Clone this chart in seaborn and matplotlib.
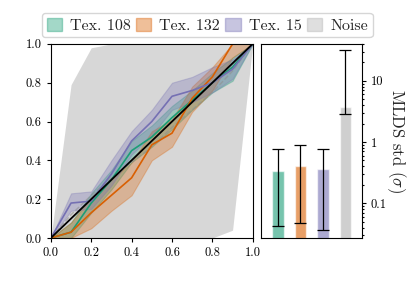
import numpy as np
import pandas as pd
import seaborn as sns
import matplotlib
import matplotlib.pyplot as plt
from matplotlib.patches import Patch
from matplotlib.ticker import FixedLocator, NullFormatter

sns.set_style("ticks")
plt.rcParams['font.family'] = ['cmr10', 'DejaVu Serif']
plt.rcParams['mathtext.fontset'] = 'cm'
plt.rcParams['axes.formatter.use_mathtext'] = True

x = [0.0, 0.1, 0.2, 0.3, 0.4, 0.5, 0.6, 0.7, 0.8, 0.9, 1.0]

tex108 = [0.0, 0.03, 0.18, 0.30, 0.45, 0.52, 0.62, 0.71, 0.80, 0.88, 1.0]
tex108_lo = [0.0, 0.0, 0.13, 0.25, 0.39, 0.47, 0.56, 0.66, 0.75, 0.81, 1.0]
tex108_hi = [0.0, 0.08, 0.23, 0.35, 0.50, 0.58, 0.68, 0.76, 0.85, 0.93, 1.0]

tex132 = [0.0, 0.03, 0.13, 0.22, 0.31, 0.48, 0.54, 0.72, 0.83, 1.0, 1.0]
tex132_lo = [0.0, 0.0, 0.05, 0.14, 0.22, 0.40, 0.47, 0.65, 0.76, 0.93, 1.0]
tex132_hi = [0.0, 0.08, 0.21, 0.30, 0.39, 0.55, 0.61, 0.78, 0.88, 1.0, 1.0]

tex15 = [0.0, 0.18, 0.19, 0.33, 0.50, 0.60, 0.73, 0.76, 0.80, 0.87, 1.0]
tex15_lo = [0.0, 0.14, 0.15, 0.27, 0.43, 0.53, 0.66, 0.70, 0.75, 0.82, 1.0]
tex15_hi = [0.0, 0.23, 0.24, 0.40, 0.55, 0.66, 0.80, 0.83, 0.88, 0.92, 1.0]

noise = [0.0, 0.12, 0.22, 0.31, 0.39, 0.47, 0.57, 0.66, 0.75, 0.86, 1.0]
noise_lo = [0.0, 0.0, 0.0, 0.0, 0.0, 0.0, 0.0, 0.0, 0.0, 0.04, 1.0]
noise_hi = [0.0, 0.79, 0.98, 1.0, 1.0, 1.0, 1.0, 1.0, 1.0, 1.0, 1.0]

labels = ['Tex. 108', 'Tex. 132', 'Tex. 15', 'Noise']
colors = ['#1b9e77', '#d95f02', '#7570b3', '#b0b0b0']
std_vals = [0.34, 0.41, 0.36, 3.75]
std_lo = [0.042, 0.048, 0.036, 2.88]
std_hi = [0.77, 0.90, 0.77, 31.8]

fig = plt.figure(figsize=(4.07, 2.85), dpi=100)
ax = fig.add_axes([0.125, 0.165, 0.496, 0.681])
ax2 = fig.add_axes([0.641, 0.165, 0.248, 0.681])

# noise band
ax.fill_between(x, noise_lo, noise_hi, color='#b0b0b0', alpha=0.5, lw=0)
sns.lineplot(x=x, y=noise, ax=ax, color='#909090', lw=1.0, ls='--', alpha=0.6)

series = [(tex108, tex108_lo, tex108_hi), (tex132, tex132_lo, tex132_hi),
          (tex15, tex15_lo, tex15_hi)]
for (m, lo, hi), c in zip(series, colors[:3]):
    ax.fill_between(x, lo, hi, color=c, alpha=0.3, lw=0.8)
    sns.lineplot(x=x, y=m, ax=ax, color=c, lw=1.2)

ax.plot([0, 1], [0, 1], color='black', lw=1.3)
ax.set_xlim(0, 1)
ax.set_ylim(0, 1)
ticks = [0.0, 0.2, 0.4, 0.6, 0.8, 1.0]
ax.set_xticks(ticks)
ax.set_yticks(ticks)
ax.set_xticklabels(['%.1f' % t for t in ticks])
ax.set_yticklabels(['%.1f' % t for t in ticks])
ax.tick_params(labelsize=9, length=3, width=0.8, colors='black')
for s in ax.spines.values():
    s.set_color('black')
    s.set_linewidth(0.8)

# bars
df = pd.DataFrame({'label': labels, 'std': std_vals})
sns.barplot(data=df, x='label', y='std', hue='label', palette=colors,
            ax=ax2, width=0.5, alpha=0.6, legend=False, saturation=1)
pos = np.arange(len(labels))
yerr = [np.array(std_vals) - np.array(std_lo), np.array(std_hi) - np.array(std_vals)]
ax2.errorbar(pos, std_vals, yerr=yerr, fmt='none', ecolor='black',
             elinewidth=0.9, capsize=4.5, capthick=0.9)
ax2.set_yscale('log')
ax2.set_ylim(0.027, 40)
ax2.set_xlim(-0.76, 3.73)
ax2.set_xticks([])
ax2.set_xlabel('')
ax2.yaxis.tick_right()
ax2.yaxis.set_label_position('right')
ax2.yaxis.set_major_locator(FixedLocator([0.1, 1, 10]))
ax2.set_yticklabels(['0.1', '1', '10'])
ax2.yaxis.set_minor_formatter(NullFormatter())
ax2.tick_params(axis='y', which='both', labelsize=9, colors='black', width=0.8)
ax2.tick_params(axis='y', which='major', length=3)
ax2.tick_params(axis='y', which='minor', length=1.5)
ax2.set_ylabel(r'MLDS std ($\sigma$)', rotation=270, fontsize=12, labelpad=15)
for s in ax2.spines.values():
    s.set_color('black')
    s.set_linewidth(0.8)

handles = [Patch(facecolor=c, alpha=0.4, edgecolor=c) for c in colors]
fig.legend(handles, labels, loc='center', bbox_to_anchor=(0.509, 0.912),
           ncol=4, fontsize=11.5, frameon=True, handlelength=0.95,
           handleheight=0.9, handletextpad=0.5, columnspacing=0.35,
           borderpad=0.3, borderaxespad=0.2)

fig.savefig('out.png', dpi=100)
